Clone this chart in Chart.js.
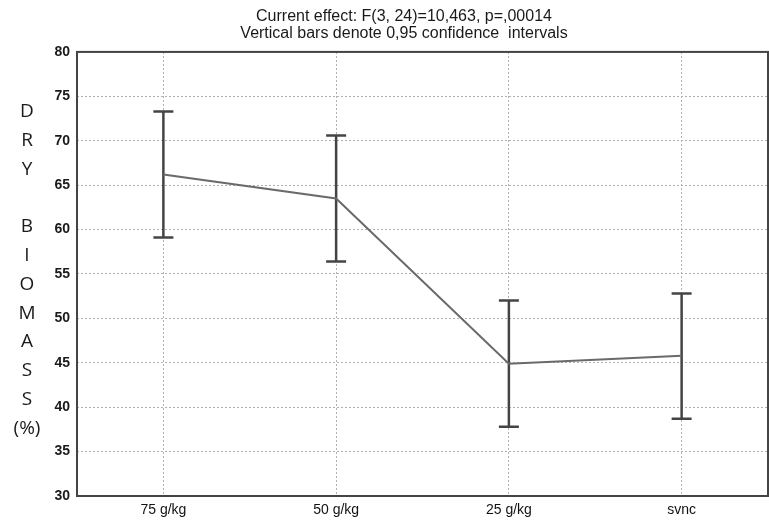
<!DOCTYPE html>
<html>
<head>
<meta charset="utf-8">
<script src="https://cdn.jsdelivr.net/npm/chart.js@4"></script>
<style>
  body { margin: 0; background: #fff; }
  #wrap { position: relative; width: 769px; height: 521px; }
  #ytitle {
    position: absolute; left: 0; top: 96px; width: 54px;
    font-family: "Open Sans", sans-serif; font-size: 19px; line-height: 28.8px;
    color: #1a1a1a; text-align: center; white-space: pre;
  }
</style>
</head>
<body>
<div id="wrap">
  <canvas id="chart"></canvas>
  <div id="ytitle">D
R
Y

B
I
O
M
A
S
S
(%)</div>
</div>
<script>
const categories = ['75 g/kg', '50 g/kg', '25 g/kg', 'svnc'];
const means = [66.2, 63.5, 44.9, 45.8];
const upper = [73.3, 70.6, 52.0, 52.8];
const lower = [59.1, 56.4, 37.8, 38.7];
const titleLines = ['Current effect: F(3, 24)=10,463, p=,00014', 'Vertical bars denote 0,95 confidence  intervals'];

// one small dataset per category for the confidence interval bars
const errorSets = categories.map((c, i) => ({
  type: 'line',
  data: [{ x: c, y: lower[i] }, { x: c, y: upper[i] }],
  borderColor: '#444',
  borderWidth: 2.5,
  pointStyle: 'line',
  pointRadius: 10,
  pointBorderWidth: 2.5,
  pointBorderColor: '#444',
  pointHoverRadius: 10
}));

const frame = {
  id: 'frame',
  afterDraw(chart) {
    const { ctx, chartArea: a } = chart;
    ctx.save();
    ctx.strokeStyle = '#444';
    ctx.lineWidth = 2;
    ctx.strokeRect(a.left, a.top, a.right - a.left, a.bottom - a.top);
    ctx.restore();
  }
};

new Chart(document.getElementById('chart').getContext('2d'), {
  type: 'line',
  data: {
    labels: categories,
    datasets: [{
      data: means,
      borderColor: '#6a6a6a',
      borderWidth: 2,
      pointRadius: 0,
      tension: 0
    }, ...errorSets]
  },
  plugins: [frame],
  options: {
    responsive: true,
    maintainAspectRatio: false,
    animation: false,
    layout: { autoPadding: false, padding: { left: 40, right: 1, top: 0, bottom: 0 } },
    plugins: {
      legend: { display: false },
      tooltip: { enabled: false },
      title: {
        display: true,
        text: titleLines,
        color: '#1a1a1a',
        font: { family: 'Liberation Sans, Arial, sans-serif', size: 16, weight: 'normal', lineHeight: 1.06 },
        padding: { top: 8, bottom: 10 }
      }
    },
    scales: {
      x: {
        type: 'category',
        offset: true,
        grid: { offset: false, color: '#b0b0b0', drawTicks: false },
        border: { display: false, dash: [2, 2] },
        ticks: { color: '#111', padding: 6, font: { family: 'Liberation Sans, Arial, sans-serif', size: 14 } },
        afterFit(scale) { scale.height = 25; }
      },
      y: {
        min: 30,
        max: 80,
        grid: { color: '#b0b0b0', drawTicks: false },
        border: { display: false, dash: [2, 2] },
        ticks: { stepSize: 5, color: '#1a1a1a', padding: 7, font: { family: 'Liberation Sans, Arial, sans-serif', size: 14, weight: 'bold' } },
        afterFit(scale) { scale.width = 37; }
      }
    }
  }
});
</script>
</body>
</html>
